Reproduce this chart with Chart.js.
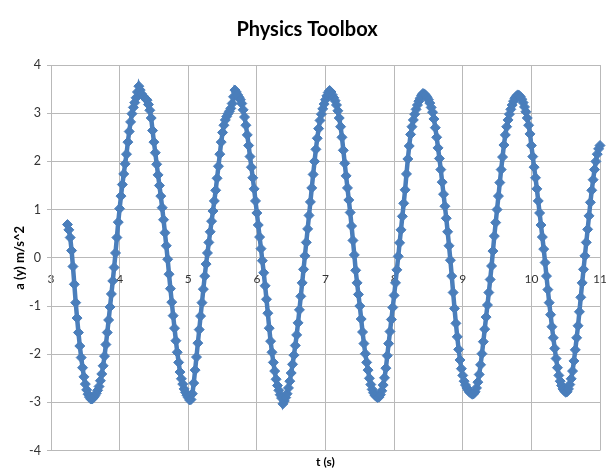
<!DOCTYPE html>
<html><head><meta charset="utf-8">
<script src="https://cdn.jsdelivr.net/npm/chart.js@4.4.0/dist/chart.umd.min.js"></script>
<style>html,body{margin:0;padding:0;background:#fff;}#wrap{width:606px;height:469px;}</style>
</head><body><div id="wrap"><canvas id="c" width="606" height="469"></canvas></div>
<script>
const chartTitle = 'Physics Toolbox';
const xTitle = 't (s)';
const yTitle = 'a (y) m/s^2';
const xTicks = [3,4,5,6,7,8,9,10,11];
const yTicks = [-4,-3,-2,-1,0,1,2,3,4];

const timeS = [
3.24,3.26,3.28,3.30,3.32,3.34,3.36,3.38,3.40,3.42,3.44,3.46,3.48,3.50,3.52,3.54,3.56,3.58,
3.60,3.62,3.64,3.66,3.68,3.70,3.72,3.74,3.76,3.78,3.80,3.82,3.84,3.86,3.88,3.90,3.92,3.94,3.96,3.98,4.00,4.02,4.04,4.06,4.08,4.10,4.12,4.14,4.16,4.18,4.20,4.22,4.24,4.26,4.28,
4.30,4.32,4.34,4.36,4.38,4.40,4.42,4.44,4.46,4.48,4.50,4.52,4.54,4.56,4.58,4.60,4.62,4.64,4.66,4.68,4.70,4.72,4.74,4.76,4.78,4.80,4.82,4.84,4.86,4.88,4.90,4.92,4.94,4.96,4.98,5.00,5.02,5.04,
5.06,5.08,5.10,5.12,5.14,5.16,5.18,5.20,5.22,5.24,5.26,5.28,5.30,5.32,5.34,5.36,5.38,5.40,5.42,5.44,5.46,5.48,5.50,5.52,5.54,5.56,5.58,5.60,5.62,5.64,5.66,5.68,
5.70,5.72,5.74,5.76,5.78,5.80,5.82,5.84,5.86,5.88,5.90,5.92,5.94,5.96,5.98,6.00,6.02,6.04,6.06,6.08,6.10,6.12,6.14,6.16,6.18,6.20,6.22,6.24,6.26,6.28,6.30,6.32,6.34,6.36,6.38,6.40,
6.42,6.44,6.46,6.48,6.50,6.52,6.54,6.56,6.58,6.60,6.62,6.64,6.66,6.68,6.70,6.72,6.74,6.76,6.78,6.80,6.82,6.84,6.86,6.88,6.90,6.92,6.94,6.96,6.98,7.00,7.02,7.04,7.06,
7.08,7.10,7.12,7.14,7.16,7.18,7.20,7.22,7.24,7.26,7.28,7.30,7.32,7.34,7.36,7.38,7.40,7.42,7.44,7.46,7.48,7.50,7.52,7.54,7.56,7.58,7.60,7.62,7.64,7.66,7.68,7.70,7.72,7.74,7.76,7.78,
7.80,7.82,7.84,7.86,7.88,7.90,7.92,7.94,7.96,7.98,8.00,8.02,8.04,8.06,8.08,8.10,8.12,8.14,8.16,8.18,8.20,8.22,8.24,8.26,8.28,8.30,8.32,8.34,8.36,8.38,8.40,8.42,
8.44,8.46,8.48,8.50,8.52,8.54,8.56,8.58,8.60,8.62,8.64,8.66,8.68,8.70,8.72,8.74,8.76,8.78,8.80,8.82,8.84,8.86,8.88,8.90,8.92,8.94,8.96,8.98,9.00,9.02,9.04,9.06,9.08,9.10,9.12,9.14,9.16,
9.18,9.20,9.22,9.24,9.26,9.28,9.30,9.32,9.34,9.36,9.38,9.40,9.42,9.44,9.46,9.48,9.50,9.52,9.54,9.56,9.58,9.60,9.62,9.64,9.66,9.68,9.70,9.72,9.74,9.76,9.78,9.80,
9.82,9.84,9.86,9.88,9.90,9.92,9.94,9.96,9.98,10.00,10.02,10.04,10.06,10.08,10.10,10.12,10.14,10.16,10.18,10.20,10.22,10.24,10.26,10.28,10.30,10.32,10.34,10.36,10.38,10.40,10.42,10.44,10.46,10.48,10.50,10.52,
10.54,10.56,10.58,10.60,10.62,10.64,10.66,10.68,10.70,10.72,10.74,10.76,10.78,10.80,10.82,10.84,10.86,10.88,10.90,10.92,10.94,10.96,10.98,11.00
];

const accelY = [
0.69,0.58,0.42,0.15,-0.18,-0.55,-0.93,-1.25,-1.55,-1.83,-2.07,-2.28,-2.47,-2.62,-2.74,-2.83,-2.89,-2.93,
-2.93,-2.90,-2.86,-2.81,-2.75,-2.67,-2.55,-2.41,-2.24,-2.04,-1.80,-1.55,-1.29,-1.02,-0.75,-0.48,-0.20,0.10,0.42,0.74,1.02,1.28,1.52,1.74,1.95,2.15,2.40,2.62,2.82,2.99,3.12,3.22,3.32,3.44,3.56,
3.48,3.40,3.36,3.33,3.30,3.27,3.18,3.06,2.90,2.64,2.40,2.18,1.94,1.72,1.50,1.28,1.04,0.79,0.52,0.25,-0.03,-0.34,-0.64,-0.92,-1.20,-1.46,-1.72,-1.96,-2.17,-2.37,-2.51,-2.62,-2.72,-2.79,-2.85,-2.90,-2.95,-2.94,
-2.82,-2.60,-2.33,-2.06,-1.77,-1.49,-1.21,-0.93,-0.65,-0.38,-0.13,0.10,0.32,0.54,0.76,0.97,1.18,1.40,1.65,1.90,2.15,2.40,2.60,2.75,2.86,2.93,2.99,3.04,3.10,3.20,3.34,3.48,
3.44,3.38,3.33,3.28,3.20,3.07,2.92,2.75,2.55,2.33,2.10,1.88,1.66,1.43,1.18,0.93,0.68,0.43,0.19,-0.06,-0.31,-0.58,-0.86,-1.15,-1.46,-1.73,-1.96,-2.17,-2.35,-2.52,-2.65,-2.75,-2.84,-2.91,-3.03,-2.97,
-2.90,-2.82,-2.70,-2.56,-2.39,-2.21,-2.02,-1.82,-1.60,-1.35,-1.08,-0.80,-0.52,-0.24,0.04,0.32,0.60,0.88,1.16,1.45,1.73,2.00,2.25,2.48,2.68,2.85,2.98,3.09,3.19,3.28,3.36,3.43,3.47,
3.44,3.38,3.32,3.26,3.17,3.05,2.90,2.72,2.50,2.23,1.96,1.70,1.45,1.20,0.94,0.66,0.36,0.06,-0.26,-0.52,-0.76,-1.00,-1.27,-1.54,-1.78,-1.99,-2.17,-2.33,-2.50,-2.63,-2.73,-2.80,-2.85,-2.88,-2.90,-2.89,
-2.84,-2.76,-2.64,-2.49,-2.29,-2.03,-1.78,-1.53,-1.28,-1.03,-0.78,-0.52,-0.25,0.03,0.31,0.58,0.86,1.13,1.41,1.74,2.05,2.32,2.56,2.72,2.86,2.98,3.08,3.17,3.25,3.31,3.37,3.41,
3.40,3.37,3.33,3.28,3.21,3.12,3.02,2.88,2.70,2.50,2.28,2.06,1.83,1.57,1.32,1.07,0.82,0.54,0.25,-0.05,-0.38,-0.72,-1.05,-1.36,-1.64,-1.90,-2.12,-2.30,-2.44,-2.56,-2.64,-2.70,-2.75,-2.79,-2.81,-2.83,-2.82,
-2.78,-2.70,-2.58,-2.42,-2.22,-1.99,-1.74,-1.48,-1.23,-0.98,-0.72,-0.45,-0.17,0.14,0.45,0.73,1.00,1.28,1.56,1.83,2.09,2.34,2.55,2.72,2.86,2.98,3.08,3.17,3.25,3.31,3.35,3.38,
3.37,3.34,3.29,3.22,3.13,3.03,2.90,2.75,2.57,2.33,2.10,1.88,1.66,1.43,1.18,0.93,0.68,0.43,0.18,-0.10,-0.38,-0.66,-0.93,-1.18,-1.43,-1.66,-1.88,-2.09,-2.28,-2.44,-2.56,-2.65,-2.72,-2.76,-2.79,-2.78,
-2.72,-2.63,-2.51,-2.35,-2.14,-1.91,-1.66,-1.41,-1.12,-0.82,-0.52,-0.24,0.04,0.32,0.59,0.87,1.15,1.40,1.62,1.83,2.00,2.15,2.26,2.33
];

const seriesColor = '#4a7ebb';
const gridColor = '#b9b9b9';
const points = timeS.map((t, i) => ({ x: t, y: accelY[i] }));

new Chart(document.getElementById('c'), {
  type: 'scatter',
  data: { datasets: [{
    data: points, showLine: true, borderColor: seriesColor, backgroundColor: seriesColor,
    borderWidth: 4.5, pointStyle: 'rectRot', pointRadius: 5, pointBorderWidth: 1, clip: false
  }]},
  options: {
    responsive: false, animation: false, devicePixelRatio: 1,
    layout: { padding: { left: 8, right: 0, top: 0, bottom: 0 } },
    plugins: {
      legend: { display: false }, tooltip: { enabled: false },
      title: { display: true, text: chartTitle, color: '#000',
        font: { family: 'Lato', size: 20, weight: 'bold' }, padding: { top: 18, bottom: 23 } },
      subtitle: { display: true, position: 'bottom', fullSize: false, text: xTitle, color: '#000',
        font: { family: 'Lato', size: 12, weight: 'bold' }, padding: { top: 4, bottom: 0 } }
    },
    scales: {
      x: {
        type: 'linear', min: 3, max: 11, position: { y: 0 },
        afterBuildTicks: s => { s.ticks = xTicks.map(v => ({ value: v })); },
        afterFit: s => { s.paddingLeft = 0; s.paddingRight = 0; },
        grid: { color: gridColor, lineWidth: 1, tickLength: 4 },
        border: { color: gridColor, width: 1 },
        ticks: { font: { family: 'Lato', size: 12 }, color: '#333', padding: 10, maxRotation: 0 }
      },
      y: {
        type: 'linear', min: -4, max: 4,
        afterBuildTicks: s => { s.ticks = yTicks.map(v => ({ value: v })); },
        afterFit: s => { s.width = 43; },
        grid: { color: gridColor, lineWidth: 1, tickLength: 4 },
        border: { color: gridColor, width: 1 },
        ticks: { font: { family: 'Lato', size: 12.5 }, color: '#333', padding: 6 },
        title: { display: true, text: yTitle, color: '#000',
          font: { family: 'Lato', size: 13, weight: 'bold' }, padding: { top: 4, bottom: 0 } }
      }
    }
  }
});
</script>
</body></html>
